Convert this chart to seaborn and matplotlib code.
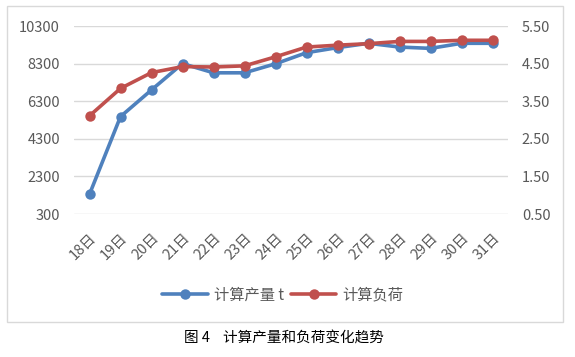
import seaborn as sns
import pandas as pd
import matplotlib.pyplot as plt
from matplotlib.patches import Rectangle
from matplotlib.lines import Line2D

# Data
days = ["18日", "19日", "20日", "21日", "22日", "23日", "24日",
        "25日", "26日", "27日", "28日", "29日", "30日", "31日"]
output_t = [1350, 5480, 6900, 8300, 7810, 7810, 8290,
            8880, 9150, 9380, 9180, 9110, 9380, 9380]
load = [3.11, 3.84, 4.26, 4.42, 4.41, 4.44, 4.68,
        4.94, 4.99, 5.03, 5.09, 5.09, 5.12, 5.12]
left_ticks = [300, 2300, 4300, 6300, 8300, 10300]
right_ticks = [0.5, 1.5, 2.5, 3.5, 4.5, 5.5]

df = pd.DataFrame({"day": days, "output": output_t, "load": load})

sns.set_theme(style="white")
plt.rcParams['font.family'] = ['Noto Sans CJK SC', 'DejaVu Sans']

blue = "#4f81bd"
red = "#c0504d"
grey_txt = "#595959"

fig = plt.figure(figsize=(5.75, 3.57), dpi=100)
ax = fig.add_axes([74 / 575, 1 - 214 / 357, 434 / 575, 188 / 357])
ax2 = ax.twinx()

sns.lineplot(data=df, x="day", y="output", ax=ax, color=blue, marker="o",
             markersize=7.5, markeredgewidth=0, linewidth=2.6, sort=False)
sns.lineplot(data=df, x="day", y="load", ax=ax2, color=red, marker="o",
             markersize=7.5, markeredgewidth=0, linewidth=2.6, sort=False)

ax.set_xlim(-0.5, len(days) - 0.5)
ax.set_ylim(300, 10300)
ax2.set_ylim(0.5, 5.5)
ax.set_yticks(left_ticks)
ax.set_yticklabels([str(t) for t in left_ticks])
ax2.set_yticks(right_ticks)
ax2.set_yticklabels([f"{t:.2f}" for t in right_ticks])
ax.grid(axis="y", color="#d9d9d9", linewidth=1)
ax.set_xlabel("")
ax.set_ylabel("")
ax2.set_ylabel("")

for a in (ax, ax2):
    for s in a.spines.values():
        s.set_visible(False)
    a.tick_params(length=0, labelsize=10.5, colors=grey_txt)

ax.tick_params(axis="y", pad=10)
ax2.tick_params(axis="y", pad=10)
ax.set_xticks(range(len(days)))
ax.set_xticklabels(days, rotation=45, ha="right", va="top",
                   rotation_mode="anchor", fontsize=10.5, color=grey_txt)
ax.tick_params(axis="x", pad=12)

# Legend below the plot
handles = [
    Line2D([], [], color=blue, marker="o", markersize=7.5, linewidth=2.6, markeredgewidth=0),
    Line2D([], [], color=red, marker="o", markersize=7.5, linewidth=2.6, markeredgewidth=0),
]
leg = fig.legend(handles, ["计算产量 t", "计算负荷"], loc="center",
                 bbox_to_anchor=(283 / 575, 1 - 295 / 357), ncol=2, frameon=False,
                 fontsize=11, handlelength=3, columnspacing=0.4, handletextpad=0.4)
for t in leg.get_texts():
    t.set_color(grey_txt)

# Chart frame
fig.patches.append(Rectangle((7 / 575, 1 - 322 / 357), 556 / 575, 316 / 357,
                             transform=fig.transFigure, fill=False,
                             edgecolor="#d9d9d9", linewidth=1))

# Caption
fig.text(284 / 575, 1 - 338 / 357, "图 4    计算产量和负荷变化趋势",
         ha="center", va="center", fontsize=10.5, color="black",
         fontweight="light")

fig.savefig("out.png", dpi=100)
